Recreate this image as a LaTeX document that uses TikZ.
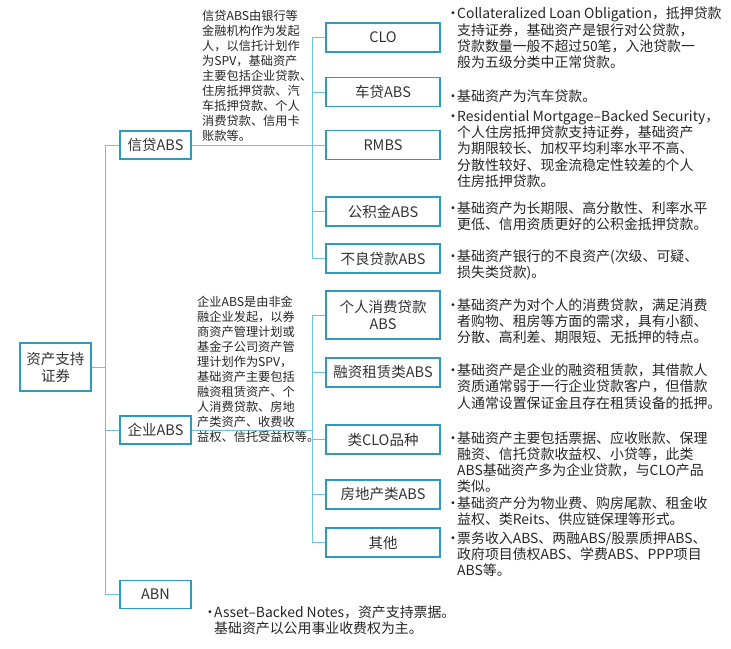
\documentclass[tikz,border=0pt]{standalone}
\usepackage{fontspec}
\setmainfont{Noto Sans CJK SC}
\definecolor{boxblue}{RGB}{45,155,190}
\definecolor{linkblue}{RGB}{110,195,222}
\newcommand\bul{\makebox[11pt][l]{•}}
\newcommand\ind{\hspace*{11pt}}
\begin{document}
\begin{tikzpicture}[x=1pt,y=-1pt,
  box/.style={draw=boxblue,line width=1.4pt,fill=white,inner sep=0pt,minimum width=71pt,minimum height=28pt,font=\fontsize{14.5}{17}\selectfont,text=black!80,align=center},
  subbox/.style={box,minimum width=114pt,minimum height=29pt},
  link/.style={draw=linkblue,line width=0.9pt},
  desc/.style={anchor=west,inner sep=0pt,align=left,font=\fontsize{13.9}{16.2}\selectfont,text=black!85},
  note/.style={anchor=west,inner sep=0pt,align=left,font=\fontsize{12.2}{15}\selectfont,text=black!85}]
\useasboundingbox (0,0) rectangle (731,648);
% trunks
\coordinate (t1) at (105,0);
\coordinate (t2) at (312,0);
% boxes
\node[box,minimum height=48pt] (root) at (55.5,367) {资产支持\\证券};
\node[box] (xindai) at (155.5,145) {信贷ABS};
\node[box] (qiye) at (155.5,430) {企业ABS};
\node[box] (abn) at (155.5,594.5) {ABN};
\node[subbox] (clo) at (383,37.5) {CLO};
\node[subbox] (chedai) at (383,92) {车贷ABS};
\node[subbox] (rmbs) at (383,145) {RMBS};
\node[subbox] (gjj) at (383,211.5) {公积金ABS};
\node[subbox] (buliang) at (383,258.5) {不良贷款ABS};
\node[subbox,minimum height=48pt] (grxf) at (383,315) {个人消费贷款\\ABS};
\node[subbox] (rzzl) at (383,372.5) {融资租赁类ABS};
\node[subbox] (lclo) at (383,439.5) {类CLO品种};
\node[subbox] (fdc) at (383,494.5) {房地产类ABS};
\node[subbox] (qita) at (383,542.5) {其他};
% connectors
\draw[link] (root.east) -- (root.east -| t1);
\draw[link] (xindai.west) -| (t1 |- abn.west) -- (abn.west);
\draw[link] (qiye.west) -- (qiye.west -| t1);
\draw[link] (clo.west) -| (t2 |- buliang.west) -- (buliang.west);
\draw[link] (xindai.east) -- (rmbs.west);
\draw[link] (chedai.west) -- (chedai.west -| t2);
\draw[link] (gjj.west) -- (gjj.west -| t2);
\draw[link] (grxf.west) -| (t2 |- qita.west) -- (qita.west);
\draw[link] (qiye.east) -- (qiye.east -| t2);
\draw[link] (rzzl.west) -- (rzzl.west -| t2);
\draw[link] (lclo.west) -- (lclo.west -| t2);
\draw[link] (fdc.west) -- (fdc.west -| t2);
% notes
\node[note] (nxindai) at (202,76) {信贷ABS由银行等\\金融机构作为发起\\人，以信托计划作\\为SPV，基础资产\\主要包括企业贷款、\\住房抵押贷款、汽\\车抵押贷款、个人\\消费贷款、信用卡\\账款等。};
\node[note] (nqiye) at (197,369) {企业ABS是由非金\\融企业发起，以券\\商资产管理计划或\\基金子公司资产管\\理计划作为SPV，\\基础资产主要包括\\融资租赁资产、个\\人消费贷款、房地\\产类资产、收费收\\益权、信托受益权等。};
% descriptions
\node[desc] (dclo) at (446,38) {\bul Collateralized Loan Obligation，抵押贷款\\\ind 支持证券，基础资产是银行对公贷款，\\\ind 贷款数量一般不超过50笔，入池贷款一\\\ind 般为五级分类中正常贷款。};
\node[desc] (dchedai) at (446,96) {\bul 基础资产为汽车贷款。};
\node[desc] (drmbs) at (446,149) {\bul Residential Mortgage–Backed Security，\\\ind 个人住房抵押贷款支持证券，基础资产\\\ind 为期限较长、加权平均利率水平不高、\\\ind 分散性较好、现金流稳定性较差的个人\\\ind 住房抵押贷款。};
\node[desc] (dgjj) at (446,216) {\bul 基础资产为长期限、高分散性、利率水平\\\ind 更低、信用资质更好的公积金抵押贷款。};
\node[desc] (dbuliang) at (446,265) {\bul 基础资产银行的不良资产(次级、可疑、\\\ind 损失类贷款)。};
\node[desc] (dgrxf) at (446,321.5) {\bul 基础资产为对个人的消费贷款，满足消费\\\ind 者购物、租房等方面的需求，具有小额、\\\ind 分散、高利差、期限短、无抵押的特点。};
\node[desc] (drzzl) at (446,386.5) {\bul 基础资产是企业的融资租赁款，其借款人\\\ind 资质通常弱于一行企业贷款客户，但借款\\\ind 人通常设置保证金且存在租赁设备的抵押。};
\node[desc] (dlclo) at (446,462) {\bul 基础资产主要包括票据、应收账款、保理\\\ind 融资、信托贷款收益权、小贷等，此类\\\ind ABS基础资产多为企业贷款，与CLO产品\\\ind 类似。};
\node[desc] (dfdc) at (446,511.5) {\bul 基础资产分为物业费、购房尾款、租金收\\\ind 益权、类Reits、供应链保理等形式。};
\node[desc] (dqita) at (446,554) {\bul 票务收入ABS、两融ABS/股票质押ABS、\\\ind 政府项目债权ABS、学费ABS、PPP项目\\\ind ABS等。};
\node[desc] (dabn) at (203,620.5) {\bul Asset–Backed Notes，资产支持票据。\\\ind 基础资产以公用事业收费权为主。};
\end{tikzpicture}
\end{document}
